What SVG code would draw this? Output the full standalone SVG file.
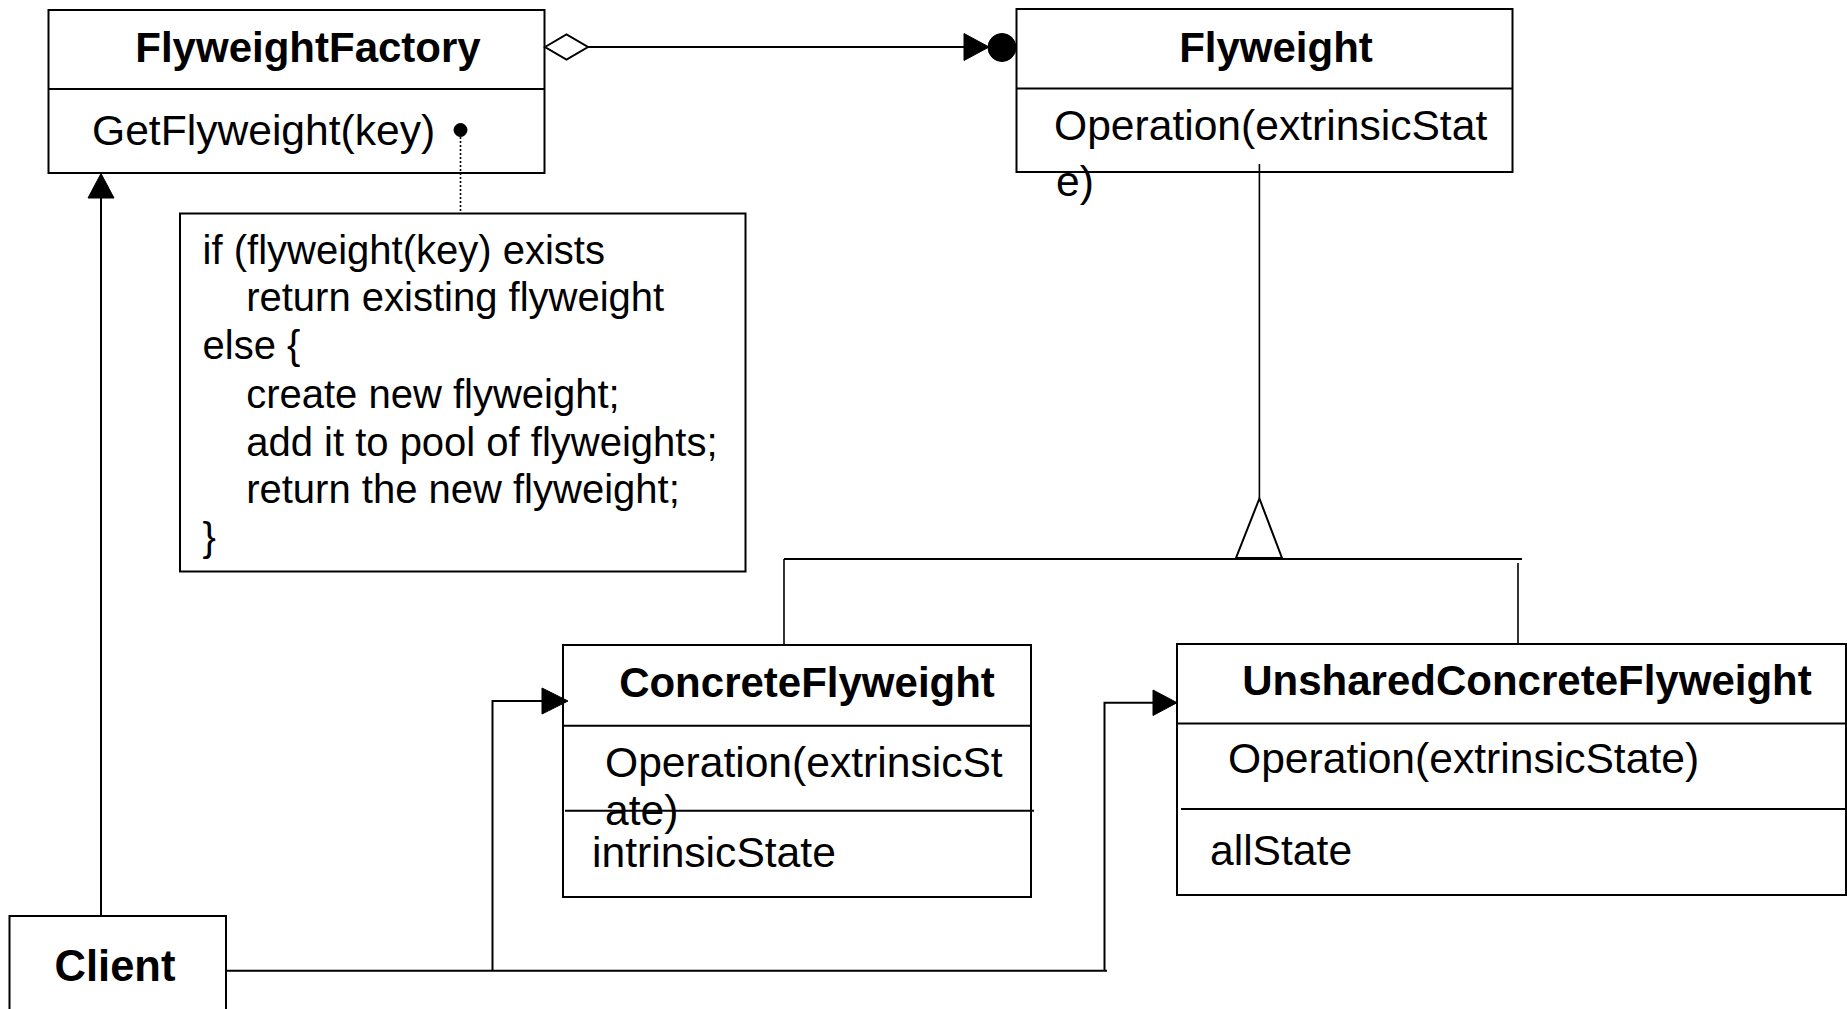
<svg xmlns="http://www.w3.org/2000/svg" width="1847" height="1009" viewBox="0 0 1847 1009">
<style>
.box{fill:#fff;stroke:#000;stroke-width:2}
.ln{fill:none;stroke:#000;stroke-width:2}
.thin{fill:none;stroke:#000;stroke-width:1.6}
.title{font-family:"Liberation Sans",Arial,sans-serif;font-weight:bold;font-size:42px;fill:#000}
.body{font-family:"Liberation Sans",Arial,sans-serif;font-size:42.6px;fill:#000}
.note{font-family:"Liberation Sans",Arial,sans-serif;font-size:40px;fill:#000}
.fill{fill:#000;stroke:#000;stroke-width:1}
.hollow{fill:#fff;stroke:#000;stroke-width:2}
</style>
<rect width="1847" height="1009" fill="#fff"/>

<g id="FlyweightFactory">
  <rect class="box" x="48.5" y="10" width="496" height="163"/>
  <line class="ln" x1="48.5" y1="89" x2="544.5" y2="89"/>
  <text class="title" x="308" y="62" text-anchor="middle">FlyweightFactory</text>
  <text class="body" x="92" y="145">GetFlyweight(key)</text>
</g>

<g id="Flyweight">
  <rect class="box" x="1016.5" y="9" width="496" height="163"/>
  <line class="ln" x1="1016.5" y1="88.5" x2="1512.5" y2="88.5"/>
  <text class="title" x="1276" y="62" text-anchor="middle">Flyweight</text>
  <text class="body" x="1054" y="140">Operation(extrinsicStat</text>
  <text class="body" x="1056" y="196">e)</text>
</g>

<g id="Note">
  <rect class="box" x="180" y="213.5" width="565.5" height="358"/>
  <text class="note" x="202.6" y="264">if (flyweight(key) exists</text>
  <text class="note" x="246.2" y="311">return existing flyweight</text>
  <text class="note" x="202.6" y="359.3">else {</text>
  <text class="note" x="246.2" y="407.6">create new flyweight;</text>
  <text class="note" x="246.2" y="455.9">add it to pool of flyweights;</text>
  <text class="note" x="246.2" y="503">return the new flyweight;</text>
  <text class="note" x="202.6" y="551.3">}</text>
</g>

<g id="ConcreteFlyweight">
  <rect class="box" x="563" y="645" width="468" height="252"/>
  <line class="ln" x1="563" y1="725.7" x2="1031" y2="725.7"/>
  <text class="title" x="807" y="697" text-anchor="middle">ConcreteFlyweight</text>
  <text class="body" x="605" y="777">Operation(extrinsicSt</text>
  <text class="body" x="605" y="825">ate)</text>
  <line class="ln" x1="565" y1="810.7" x2="1034" y2="810.7"/>
  <text class="body" x="592" y="867">intrinsicState</text>
</g>

<g id="UnsharedConcreteFlyweight">
  <rect class="box" x="1177" y="644" width="669" height="251"/>
  <line class="ln" x1="1177" y1="723.5" x2="1846" y2="723.5"/>
  <text class="title" x="1527" y="695" text-anchor="middle">UnsharedConcreteFlyweight</text>
  <text class="body" x="1228" y="773">Operation(extrinsicState)</text>
  <line class="ln" x1="1181" y1="809" x2="1846" y2="809"/>
  <text class="body" x="1210" y="865">allState</text>
</g>

<g id="Client">
  <rect class="box" x="9.5" y="916" width="216.5" height="100"/>
  <text class="title" x="115" y="981" text-anchor="middle" style="font-size:43.5px">Client</text>
</g>

<g id="connectors">
  <!-- aggregation FlyweightFactory -> Flyweight -->
  <line class="ln" x1="588" y1="47" x2="966" y2="47"/>
  <polygon class="hollow" points="545,47 566.5,34.5 588,47 566.5,59.5"/>
  <polygon class="fill" points="964,33.5 989,47 964,60.5"/>
  <circle class="fill" cx="1002" cy="47.5" r="14"/>
  <!-- note anchor -->
  <line x1="460.5" y1="137" x2="460.5" y2="213" stroke="#000" stroke-width="1.6" stroke-dasharray="2,2"/>
  <circle class="fill" cx="460.5" cy="130" r="6.5"/>
  <!-- Client -> FlyweightFactory -->
  <line class="ln" x1="101" y1="916" x2="101" y2="196"/>
  <polygon class="fill" points="101,173.5 88,198 114,198"/>
  <!-- generalization -->
  <line class="thin" x1="1259.4" y1="164" x2="1259.4" y2="498.5"/>
  <polygon class="hollow" points="1259.4,498.5 1236,558 1282,558"/>
  <line class="ln" x1="784" y1="559" x2="1522" y2="559"/>
  <line class="thin" x1="784" y1="559" x2="784" y2="645"/>
  <line class="thin" x1="1518" y1="563" x2="1518" y2="644"/>
  <!-- Client -> ConcreteFlyweight / UnsharedConcreteFlyweight -->
  <polyline class="ln" points="226,970.7 1107,970.7"/>
  <polyline class="ln" points="492.5,970.7 492.5,701 544,701"/>
  <polygon class="fill" points="542,688 568,701 542,714"/>
  <polyline class="ln" points="1104.5,970.7 1104.5,702.7 1155,702.7"/>
  <polygon class="fill" points="1153,690 1177,702.7 1153,715.5"/>
</g>
</svg>
